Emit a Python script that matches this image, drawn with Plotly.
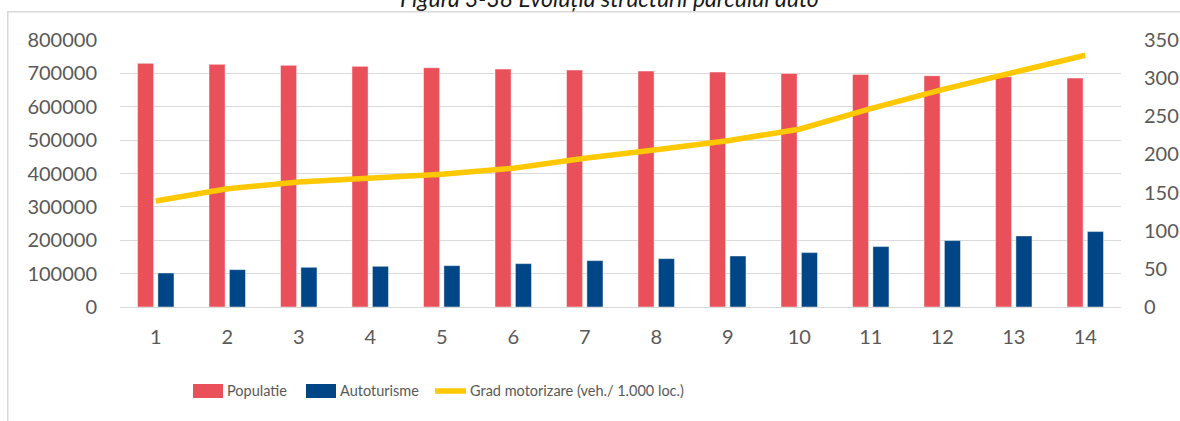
import plotly.graph_objects as go

# Evolution of the car fleet structure: population, passenger cars, motorisation rate
ani = [str(i) for i in range(1, 15)]
populatie = [730000, 727000, 724000, 721000, 717000, 713000, 710000,
             707000, 704000, 700000, 697000, 693000, 690000, 686000]
autoturisme = [102000, 112000, 119000, 122000, 124000, 130000, 139000,
               145000, 153000, 163000, 181000, 199000, 213000, 226000]
grad_motorizare = [139, 155, 164, 169, 174, 182, 195, 206, 218, 233, 260, 285, 307, 330]

left_ticks = [0, 100000, 200000, 300000, 400000, 500000, 600000, 700000, 800000]
right_ticks = [0, 50, 100, 150, 200, 250, 300, 350]

RED = "#E9505A"
BLUE = "#004585"
YELLOW = "#FFC800"
GRID = "#D9D9D9"
TXT = "#595959"
FONT = "Lato, 'Open Sans', sans-serif"

fig = go.Figure()
fig.add_trace(go.Bar(x=ani, y=populatie, name="Populatie", marker_color=RED,
                     marker_line=dict(color="rgba(255,255,255,0.6)", width=0.8)))
fig.add_trace(go.Bar(x=ani, y=autoturisme, name="Autoturisme", marker_color=BLUE,
                     marker_line=dict(color="rgba(255,255,255,0.6)", width=0.8)))
fig.add_trace(go.Scatter(x=ani, y=grad_motorizare, name="Grad motorizare (veh./ 1.000 loc.)",
                         yaxis="y2", mode="lines",
                         line=dict(color=YELLOW, width=5.5)))

W, H = 1180, 421
L, R, T, B = 120, 59, 40, 114
pw, ph = W - L - R, H - T - B


def px(x):
    return (x - L) / pw


def py(y):
    return (H - B - y) / ph


shapes = [
    # chart frame (top and left edges) drawn as thin filled strips
    dict(type="rect", xref="paper", yref="paper", x0=px(7), x1=px(1180), y0=py(12.5), y1=py(11),
         fillcolor=GRID, line=dict(width=0)),
    dict(type="rect", xref="paper", yref="paper", x0=px(7), x1=px(8.5), y0=py(421), y1=py(11),
         fillcolor=GRID, line=dict(width=0)),
    # legend keys
    dict(type="rect", xref="paper", yref="paper", x0=px(193), x1=px(223), y0=py(398), y1=py(384),
         fillcolor=RED, line=dict(width=0)),
    dict(type="rect", xref="paper", yref="paper", x0=px(306), x1=px(336), y0=py(398), y1=py(384),
         fillcolor=BLUE, line=dict(width=0)),
    dict(type="line", xref="paper", yref="paper", x0=px(435), x1=px(466), y0=py(391), y1=py(391),
         line=dict(color=YELLOW, width=5.5)),
]

LEG = dict(family=FONT, size=14.5, color=TXT)
annotations = [
    dict(text="<i>Figura 3-38 Evoluția structurii parcului auto</i>", xref="paper", yref="paper",
         x=px(609), y=py(-2), xanchor="center", yanchor="middle", showarrow=False,
         font=dict(family=FONT, size=23, color="#1A1A1A")),
    dict(text="Populatie", xref="paper", yref="paper", x=px(225), y=py(391),
         xanchor="left", yanchor="middle", showarrow=False, font=LEG),
    dict(text="Autoturisme", xref="paper", yref="paper", x=px(338), y=py(391),
         xanchor="left", yanchor="middle", showarrow=False, font=LEG),
    dict(text="Grad motorizare (veh./ 1.000 loc.)", xref="paper", yref="paper", x=px(468), y=py(391),
         xanchor="left", yanchor="middle", showarrow=False, font=LEG),
]

fig.update_layout(
    width=W, height=H,
    margin=dict(l=L, r=R, t=T, b=B, pad=0, autoexpand=False),
    paper_bgcolor="white", plot_bgcolor="white",
    barmode="group", bargap=0.43, bargroupgap=0.21,
    showlegend=False,
    font=dict(family=FONT, size=20, color=TXT),
    xaxis=dict(type="category", showgrid=False, showline=True, linecolor=GRID, linewidth=1.3,
               ticks="", ticklabelstandoff=12, tickfont=dict(size=20, color=TXT),
               automargin=False),
    yaxis=dict(range=[0, 800000], tickvals=left_ticks, tickformat="d",
               showgrid=True, gridcolor=GRID, gridwidth=1.3, zeroline=False,
               showline=False, ticks="", ticklabelstandoff=22,
               tickfont=dict(size=20, color=TXT), automargin=False),
    yaxis2=dict(range=[0, 350], tickvals=right_ticks, overlaying="y", side="right",
                showgrid=False, zeroline=False, showline=False, ticks="",
                ticklabelstandoff=22, tickfont=dict(size=20, color=TXT), automargin=False),
    shapes=shapes,
    annotations=annotations,
)

# keep the page itself free of margins and scrollbars
page_css = ("document.documentElement.style.overflow='hidden';"
            "document.body.style.overflow='hidden';"
            "document.body.style.margin='0';")

fig.write_html("out.html", config={"displayModeBar": False}, post_script=page_css)
